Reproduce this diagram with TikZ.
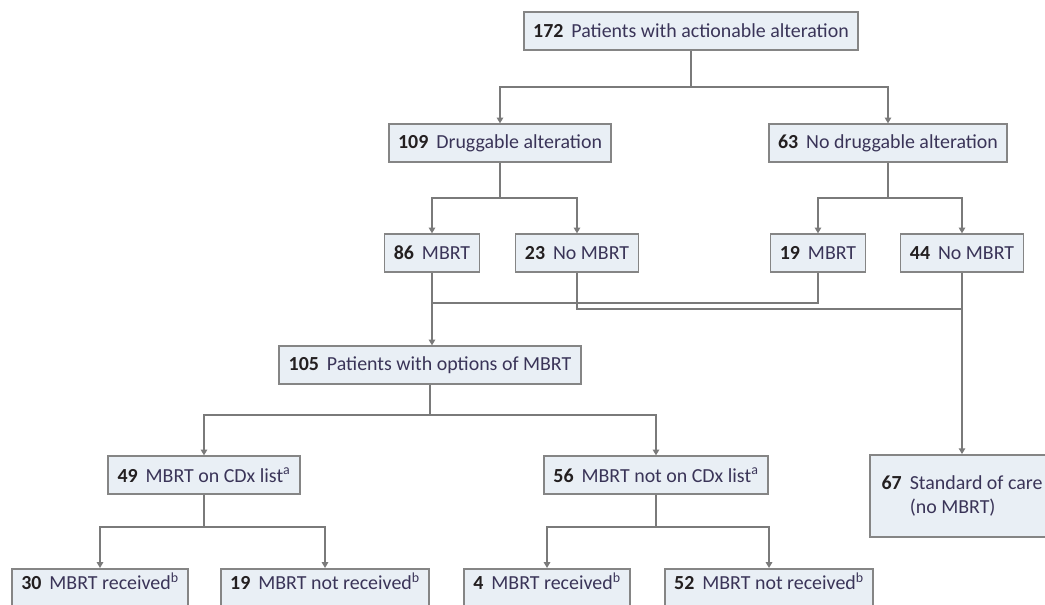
\documentclass[tikz,border=0pt]{standalone}
\usepackage{fontspec}
\setmainfont{Carlito}
\usepackage{tikz}
\usetikzlibrary{arrows.meta}
\usetikzlibrary{positioning}
\definecolor{boxfill}{HTML}{E9EFF5}
\definecolor{boxline}{HTML}{858585}
\definecolor{wirecol}{HTML}{7A7A7A}
\definecolor{lbl}{HTML}{3A3458}
\definecolor{numcol}{HTML}{231F20}
\newcommand{\cnt}[2]% number, label
{\textcolor{numcol}{\textbf{#1}}\hspace{0.4em}\textcolor{lbl}{#2}}
\tikzset{
	box/.style={draw=boxline, fill=boxfill, line width=1.5pt, minimum height=32pt,
		inner xsep=8pt, font=\fontsize{17}{20}\selectfont},
	rcv/.style={box, anchor=north, inner ysep=3pt, text depth=30pt},
	wire/.style={draw=wirecol, line width=1.5pt},
	arr/.style={wire, -{Triangle[length=5pt,width=5.5pt]}}
}

\begin{document}
\begin{tikzpicture}[x=0.03cm,y=-0.03cm]
	\useasboundingbox (0,0) rectangle (1045,604);
	\clip (0,0) rectangle (1045,604);
	\node[box] (all) at (691,31){\cnt{172}{Patients with actionable alteration}};
	\node[box] (drug) at (500,143){\cnt{109}{Druggable alteration}};
	\node[box] (nodrug) at (888,143){\cnt{63}{No druggable alteration}};
	\node[box] (mb86) at (432,253){\cnt{86}{MBRT}};%drug, MBRT
	\node[box] (no23) at (577,253){\cnt{23}{No MBRT}};%drug, no MBRT
	\node[box] (mb19) at (818,253){\cnt{19}{MBRT}};%no drug, MBRT
	\node[box] (no44) at (962,253){\cnt{44}{No MBRT}};%no drug, no MBRT
	\node[box] (opt) at (430,365){\cnt{105}{Patients with options of MBRT}};
	\node[box] (cdx) at (204,475){\cnt{49}{MBRT on CDx list\textsuperscript{a}}};
	\node[box] (ncdx) at (656,475){\cnt{56}{MBRT not on CDx list\textsuperscript{a}}};
	\node[box, anchor=west, align=left, inner xsep=10pt, minimum height=70pt] (soc) at (869,496)
		{\cnt{67}{Standard of care}\hspace{20pt}\\\phantom{\textbf{67}}\hspace{0.4em}\textcolor{lbl}{(no MBRT)}};
	\node[rcv] (r30) at (100,568){\cnt{30}{MBRT received\textsuperscript{b}}};
	\node[rcv] (r19) at (325,568){\cnt{19}{MBRT not received\textsuperscript{b}}};
	\node[rcv] (r4) at (547,568){\cnt{4}{MBRT received\textsuperscript{b}}};
	\node[rcv] (r52) at (769,568){\cnt{52}{MBRT not received\textsuperscript{b}}};
	% split points
	\coordinate (j0) at (691,87);
	\coordinate (j1) at (500,198);
	\coordinate (j2) at (888,198);
	\coordinate (j3) at (432,303);
	\coordinate (j4) at (962,309);
	\coordinate (j5) at (430,415);
	\coordinate (j6) at (204,527);
	\coordinate (j7) at (656,527);
	\draw[wire] (all.south) -- (j0);
	\draw[arr] (j0) -| (drug);
	\draw[arr] (j0) -| (nodrug);
	\draw[wire] (drug.south) -- (j1);
	\draw[arr] (j1) -| (mb86);
	\draw[arr] (j1) -| (no23);
	\draw[wire] (nodrug.south) -- (j2);
	\draw[arr] (j2) -| (mb19);
	\draw[arr] (j2) -| (no44);
	\draw[wire] (mb86.south) -- (j3);
	\draw[wire] (mb19.south) |- (j3);
	\draw[arr] (j3) -- (j3 |- opt.north);
	\draw[wire] (no23.south) |- (j4);
	\draw[wire] (no44.south) -- (j4);
	\draw[arr] (j4) -- (j4 |- soc.north);
	\draw[wire] (opt.south) -- (j5);
	\draw[arr] (j5) -| (cdx);
	\draw[arr] (j5) -| (ncdx);
	\draw[wire] (cdx.south) -- (j6);
	\draw[arr] (j6) -| (r30);
	\draw[arr] (j6) -| (r19);
	\draw[wire] (ncdx.south) -- (j7);
	\draw[arr] (j7) -| (r4);
	\draw[arr] (j7) -| (r52);
\end{tikzpicture}
\end{document}
